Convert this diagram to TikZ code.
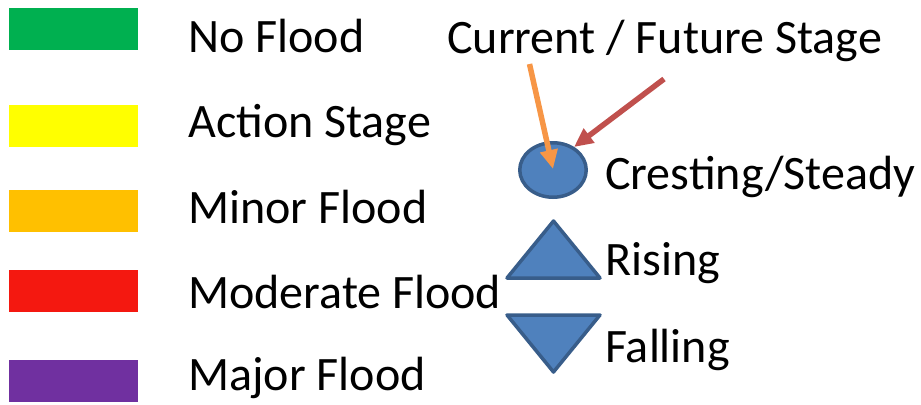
\documentclass[tikz,border=0pt]{standalone}
\usepackage{fontspec}
\setmainfont{Carlito}
\usetikzlibrary{shapes.geometric,arrows.meta}
\definecolor{cgreen}{HTML}{00B050}
\definecolor{cyellow}{HTML}{FFFF00}
\definecolor{corange}{HTML}{FFC000}
\definecolor{cred}{HTML}{F41810}
\definecolor{cpurple}{HTML}{7030A0}
\definecolor{sfill}{HTML}{4F81BD}
\definecolor{sdraw}{HTML}{385D8A}
\definecolor{aorange}{HTML}{F79646}
\definecolor{ared}{HTML}{C0504D}
\tikzset{
  lbl/.style={anchor=base west,inner sep=0pt,font=\fontsize{48.2}{57}\selectfont},
  swatch/.style={inner sep=0pt,minimum width=129bp,minimum height=42bp,anchor=north west},
  shp/.style={fill=sfill,draw=sdraw,line width=3.5bp,line join=round},
  ptr/.style={line width=5.5bp,-{Triangle[length=19bp,width=17bp]}}
}
\begin{document}
\begin{tikzpicture}[x=1bp,y=-1bp]
\useasboundingbox (0,0) rectangle (921,404);
% swatches
\node[swatch,fill=cgreen] (s1) at (9,8) {};
\node[swatch,fill=cyellow] (s2) at (9,104.5) {};
\node[swatch,fill=corange] (s3) at (9,190) {};
\node[swatch,fill=cred] (s4) at (9,270) {};
\node[swatch,fill=cpurple] (s5) at (9,360) {};
% legend labels
\node[lbl] (t1) at (188,52) {No Flood};
\node[lbl] (t2) at (188,137) {Action Stage};
\node[lbl] (t3) at (188,223) {Minor Flood};
\node[lbl] (t4) at (188,308) {Moderate Flood};
\node[lbl] (t5) at (188,390) {Major Flood};
% right side
\node[lbl] (cur) at (447,53) {Current / Future Stage};
\node[lbl] (cres) at (605,189) {Cresting/Steady};
\node[lbl] (rise) at (605,275) {Rising};
\node[lbl] (fall) at (605,362) {Falling};
\node[ellipse,shp,inner sep=0pt,minimum width=66.5bp,minimum height=54.5bp] (circ) at (553,170) {};
\draw[shp] (507,278) -- (600,278) -- (553.5,221) -- cycle;
\draw[shp] (507,315) -- (600,315) -- (553.5,372) -- cycle;
% arrows
\coordinate (oa) at (529.5,64);
\coordinate (ob) at (553,169);
\coordinate (ra) at (664,79);
\coordinate (rb) at (574,147);
\draw[ptr,draw=aorange,fill=aorange] (oa) -- (ob);
\draw[ptr,draw=ared,fill=ared] (ra) -- (rb);
\end{tikzpicture}
\end{document}
